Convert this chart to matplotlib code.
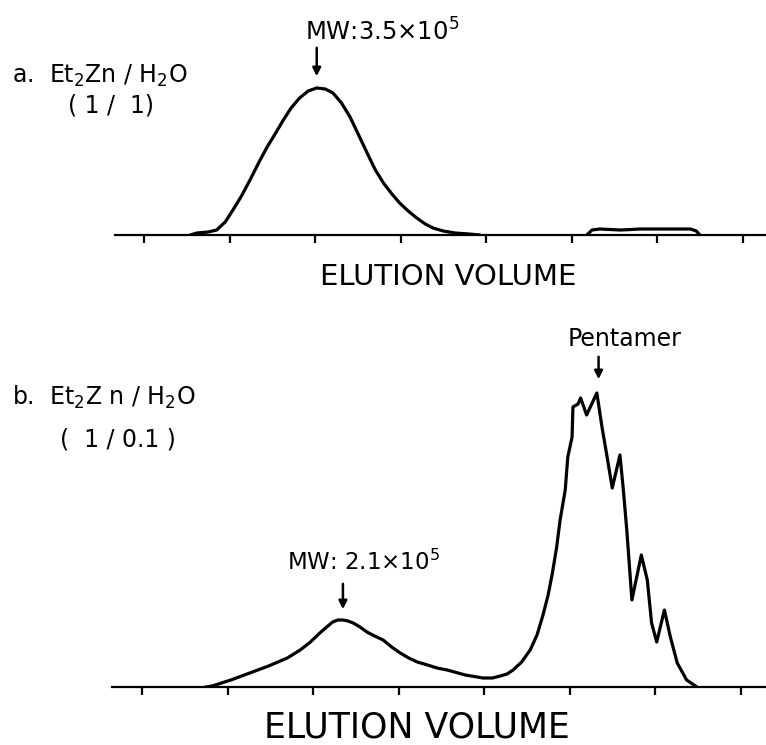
import numpy as np
import matplotlib.pyplot as plt

# elution volume in tick units, detector response in arbitrary units
top_x = [0.54, 0.62, 0.75, 0.85, 0.95, 1.04, 1.14, 1.24, 1.34, 1.44, 1.54, 1.63, 1.72, 1.82,
         1.92, 2.02, 2.12, 2.21, 2.31, 2.41, 2.51, 2.61, 2.70, 2.80, 2.90, 2.99, 3.09,
         3.19, 3.29, 3.38, 3.50, 3.64, 3.80, 3.93]
top_h = [0, 2, 3, 5, 13, 25, 39, 55, 72, 88, 102, 115, 127, 137,
         144, 147, 146, 142, 132, 118, 100, 82, 66, 52, 41, 32, 24,
         17, 11, 7, 4, 2, 1, 0]

bump_x = [5.18, 5.24, 5.33, 5.45, 5.57, 5.70, 5.80, 5.92, 6.04, 6.20, 6.39, 6.46, 6.50]
bump_h = [0, 5, 6, 5.5, 5, 5.5, 6, 6, 6, 6, 6, 4, 0]

bot_x = [0.75, 0.82, 1.04, 1.26, 1.48, 1.70, 1.85, 1.97, 2.08, 2.16, 2.23, 2.29, 2.35,
         2.41, 2.47, 2.55, 2.63, 2.72, 2.82, 2.92, 3.02, 3.12, 3.22, 3.34, 3.45, 3.57,
         3.78, 3.99, 4.10, 4.19, 4.27, 4.34, 4.44, 4.54, 4.62, 4.69, 4.75, 4.80, 4.85,
         4.89, 4.95, 4.98, 5.03, 5.04, 5.10, 5.13, 5.20, 5.32, 5.38, 5.44, 5.50, 5.59,
         5.63, 5.67, 5.73, 5.84, 5.91, 5.96, 6.02, 6.11, 6.18, 6.26, 6.37, 6.49]
bot_h = [0, 1, 7, 14, 21, 29, 37, 45, 54, 60, 65, 67, 67,
         66, 64, 60, 55, 51, 47, 40, 34, 29, 25, 22, 19, 17,
         12, 9, 9, 11, 13, 17, 25, 37, 52, 72, 92, 114, 140,
         167, 197, 230, 250, 280, 283, 289, 272, 294, 260, 230, 199, 232,
         197, 157, 87, 132, 107, 64, 45, 77, 50, 24, 7, 0]

W, H = 766, 745
fig = plt.figure(figsize=(W / 100, H / 100), dpi=100)

def px_axes(left, right, bottom, top):
    return fig.add_axes([left / W, 1 - bottom / H, (right - left) / W, (bottom - top) / H])

def style(ax):
    for s in ['top', 'right', 'left']:
        ax.spines[s].set_visible(False)
    ax.spines['bottom'].set_linewidth(1.6)
    ax.set_yticks([])
    ax.set_xticks(np.arange(8))
    ax.set_xticklabels([])
    ax.tick_params(axis='x', direction='out', length=6, width=1.6)
    ax.patch.set_alpha(0)

lw = 2.3

# panel a
ax1 = px_axes(115, 766, 235, 0)
style(ax1)
ax1.set_xlim((115 - 144) / 85.5, (766 - 144) / 85.5)
ax1.set_ylim(0, 235)
ax1.plot(top_x, top_h, color='k', lw=lw, solid_capstyle='round')
ax1.plot(bump_x, bump_h, color='k', lw=lw)
ax1.annotate('', xy=(2.02, 156), xytext=(2.02, 190),
             arrowprops=dict(arrowstyle='-|>', color='k', lw=1.8, mutation_scale=12))
ax1.text(1.88, 194, r'MW:3.5×10$^5$', fontsize=17.5, ha='left', va='baseline')

# panel b
ax2 = px_axes(112, 766, 687, 330)
style(ax2)
ax2.set_xlim((112 - 142) / 85.5, (766 - 142) / 85.5)
ax2.set_ylim(0, 357)
ax2.plot(bot_x, bot_h, color='k', lw=lw)
ax2.annotate('', xy=(2.35, 75), xytext=(2.35, 106),
             arrowprops=dict(arrowstyle='-|>', color='k', lw=1.8, mutation_scale=12))
ax2.text(1.70, 117, r'MW: 2.1×10$^5$', fontsize=16.5, ha='left', va='baseline')
ax2.annotate('', xy=(5.34, 305), xytext=(5.34, 333),
             arrowprops=dict(arrowstyle='-|>', color='k', lw=1.8, mutation_scale=12))
ax2.text(4.98, 341, 'Pentamer', fontsize=17, ha='left', va='baseline')

# labels
fig.text(12 / W, 1 - 83 / H, r'a.  Et$_2$Zn / H$_2$O', fontsize=17, ha='left', va='baseline')
fig.text(68 / W, 1 - 106 / H, '( 1 /  1)', fontsize=17, ha='left', va='center')
fig.text(12 / W, 1 - 405 / H, r'b.  Et$_2$Z n / H$_2$O', fontsize=17, ha='left', va='baseline')
fig.text(60 / W, 1 - 440 / H, '(  1 / 0.1 )', fontsize=17, ha='left', va='center')
fig.text(448 / W, 1 - 277 / H, 'ELUTION VOLUME', fontsize=21, ha='center', va='center')
fig.text(417 / W, 1 - 727 / H, 'ELUTION VOLUME', fontsize=25, ha='center', va='center')

fig.savefig('out.png', dpi=100)
